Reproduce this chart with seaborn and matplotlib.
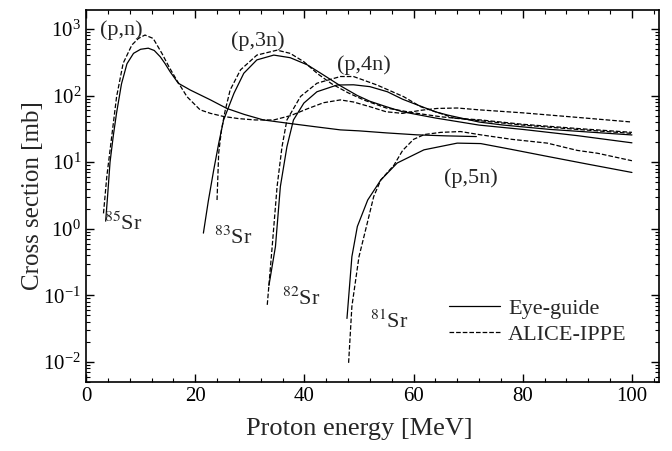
import numpy as np
import pandas as pd
import matplotlib
matplotlib.use("Agg")
import matplotlib.pyplot as plt
import seaborn as sns
from matplotlib.ticker import LogLocator, LogFormatterMathtext, MultipleLocator, NullFormatter

# --- data (energy in MeV, cross section in mb) ---
pn_eye_x = [3.6, 4.0, 4.4, 5.0, 5.6, 6.5, 7.5, 8.7, 10.0, 11.4, 12.5, 13.6, 14.5, 15.4, 16.9,
            19.1, 22.8, 25.8, 29.0, 32.5, 37.4, 42.0, 46.6, 50.0, 55.0, 60.6, 66.0, 71.5]
pn_eye_y = [1.3, 3.5, 10, 25, 55, 150, 300, 430, 495, 514, 475, 382, 300, 228, 153,
            121, 86, 64, 52, 43, 38, 34, 30.5, 29.5, 27.5, 25.7, 24.8, 24.2]

pn_alice_x = [3.2, 3.8, 4.7, 5.6, 6.8, 8.4, 9.6, 10.8, 12.3, 13.9, 15.2, 16.6, 18.5, 20.9, 22.8,
              25.2, 28.0, 31.0, 34.4, 37.5, 40.5, 43.5, 46.6, 49.0, 52.0, 55.0, 58.0, 61.3,
              64.3, 68.0, 72.0, 80.0, 90.0, 100.0]
pn_alice_y = [1.7, 6, 24, 96, 305, 574, 720, 810, 720, 430, 270, 171, 96, 61, 54,
              48.5, 45, 43, 43, 50, 63, 78, 86, 80, 68, 57, 54, 60,
              64, 65, 61, 55, 47, 40]

p3n_eye_x = [21.5, 22.4, 23.4, 24.3, 25.2, 27.1, 28.9, 31.3, 34.4, 37.4, 40.5, 43.0, 46.6,
             49.7, 52.0, 55.0, 58.0, 64.0, 72.0, 80.0, 90.0, 100.0]
p3n_eye_y = [0.86, 2.6, 7.7, 19, 43, 108, 216, 343, 405, 370, 290, 216, 140,
             100, 82, 68, 57, 46, 36, 31, 25, 19.5]

p3n_alice_x = [24.0, 24.3, 24.8, 25.5, 26.4, 28.3, 31.3, 35.0, 37.4, 39.9, 42.5, 45.0, 48.0,
               51.0, 55.0, 60.0, 65.0, 72.0, 80.0, 90.0, 100.0]
p3n_alice_y = [2.7, 13.6, 30, 60, 121, 243, 405, 480, 430, 322, 210, 150, 110,
               85, 65, 55, 48, 42, 36, 31, 27]

p4n_eye_x = [33.5, 34.7, 35.6, 36.8, 38.0, 39.9, 42.3, 46.0, 49.0, 52.0, 55.2, 58.0, 60.0,
             64.0, 66.2, 72.0, 76.5, 85.0, 100.0]
p4n_eye_y = [0.14, 0.54, 4.3, 17, 43, 77, 114, 144, 145, 136, 114, 88, 76,
             57, 51, 40, 36, 31, 25.6]

p4n_alice_x = [33.2, 34.1, 35.0, 35.9, 36.8, 39.3, 42.3, 46.6, 49.0, 53.3, 58.2, 61.3, 67.4,
               72.3, 80.0, 90.0, 100.0]
p4n_alice_y = [0.072, 0.54, 4.3, 17, 43, 97, 153, 193, 193, 144, 96, 68, 46,
               43, 37, 32, 28]

p5n_eye_x = [47.8, 48.7, 49.7, 51.6, 54.0, 57.0, 61.9, 68.0, 72.3, 78.0, 84.5, 92.0, 100.0]
p5n_eye_y = [0.045, 0.38, 1.08, 2.7, 5.4, 9.7, 15.3, 19.3, 19.0, 15.5, 12.2, 9.3, 7.0]

p5n_alice_x = [48.1, 48.7, 50.0, 51.5, 52.7, 54.0, 56.4, 58.0, 60.0, 62.0, 65.0, 68.6, 72.3,
               78.0, 84.5, 90.0, 93.7, 100.0]
p5n_alice_y = [0.0097, 0.068, 0.38, 1.2, 3.05, 5.4, 9, 15, 22, 26, 28, 28.8, 25.7,
               22, 19.3, 15, 13.6, 10.5]

reaction_labels = ['(p,n)', '(p,3n)', '(p,4n)', '(p,5n)']
reaction_label_x = [6.4, 31.5, 50.9, 70.5]
reaction_label_y = [960, 660, 288, 5.8]

isotope_labels = [r'$^{85}$Sr', r'$^{83}$Sr', r'$^{82}$Sr', r'$^{81}$Sr']
isotope_label_x = [6.8, 27.0, 39.5, 55.6]
isotope_label_y = [1.2, 0.73, 0.089, 0.04]

# --- plotting ---
sns.set_style('ticks')
plt.rcParams['font.family'] = ['Liberation Serif', 'DejaVu Serif']
plt.rcParams['mathtext.fontset'] = 'stix'
plt.rcParams['axes.unicode_minus'] = False

fig = plt.figure(figsize=(6.72, 4.51), dpi=100)
ax = fig.add_axes([0.128, 0.153, 0.853, 0.825])

curves = [
    (pn_eye_x, pn_eye_y, '-', 'Eye-guide'),
    (pn_alice_x, pn_alice_y, '--', 'ALICE-IPPE'),
    (p3n_eye_x, p3n_eye_y, '-', None),
    (p3n_alice_x, p3n_alice_y, '--', None),
    (p4n_eye_x, p4n_eye_y, '-', None),
    (p4n_alice_x, p4n_alice_y, '--', None),
    (p5n_eye_x, p5n_eye_y, '-', None),
    (p5n_alice_x, p5n_alice_y, '--', None),
]
for xs, ys, ls, lab in curves:
    kw = dict(dashes=(3.3, 2.6)) if ls == '--' else {}
    sns.lineplot(x=xs, y=ys, ax=ax, color='black', linewidth=0.9, sort=False,
                 estimator=None, label=lab, linestyle=ls, **kw)

ax.set_yscale('log')
ax.set_xlim(0, 105)
ax.set_ylim(0.005, 1930)

ax.xaxis.set_major_locator(MultipleLocator(20))
ax.xaxis.set_minor_locator(MultipleLocator(4))
ax.yaxis.set_major_locator(LogLocator(base=10, numticks=12))
ax.yaxis.set_minor_locator(LogLocator(base=10, subs=np.arange(2, 10), numticks=12))
ax.yaxis.set_major_formatter(LogFormatterMathtext())
ax.yaxis.set_minor_formatter(NullFormatter())

ax.tick_params(which='both', direction='in', top=True, right=True, labelsize=15, colors='black')
ax.tick_params(which='major', length=6, width=1)
ax.tick_params(which='minor', length=3, width=0.8)
for sp in ax.spines.values():
    sp.set_linewidth(1.2)
    sp.set_color('black')

ax.set_xlabel('Proton energy [MeV]', fontsize=19)
ax.xaxis.set_label_coords(50 / 105, -0.098)
ax.set_ylabel('Cross section [mb]', fontsize=18)
ax.yaxis.set_label_coords(-0.073, 0.5)

for t, x, y in zip(reaction_labels, reaction_label_x, reaction_label_y):
    ax.text(x, y, t, fontsize=16, ha='center', va='center')
for t, x, y in zip(isotope_labels, isotope_label_x, isotope_label_y):
    ax.text(x, y, t, fontsize=16, ha='center', va='center')

ax.legend(loc='upper left', bbox_to_anchor=(0.614, 0.254), frameon=False, fontsize=16,
          handlelength=2.3, handletextpad=0.35, labelspacing=0.22, borderpad=0)

fig.savefig('out.png', dpi=100)
